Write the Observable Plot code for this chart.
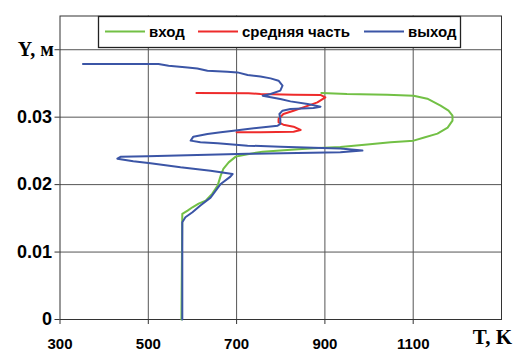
<!DOCTYPE html>
<html><head><meta charset="utf-8">
<script src="https://cdn.jsdelivr.net/npm/d3@7"></script>
<script src="https://cdn.jsdelivr.net/npm/@observablehq/plot@0.6"></script>
<style>body{margin:0;background:#fff} svg{display:block}</style>
</head><body><div id="chart"></div>
<script>
const seriesNames = ["вход", "средняя часть", "выход"];
const seriesColors = ["#72c045", "#ee2b2b", "#3b55a6"];

const xTicks = [300, 500, 700, 900, 1100];
const yTicks = [0, 0.01, 0.02, 0.03, 0.04];
const yTickLabels = ["0", "0.01", "0.02", "0.03", ""];
const yTitle = "Y, м";
const xTitle = "T, K";

// вход (inlet)
const inletT = [892, 950, 1041, 1101, 1132, 1162, 1180, 1189, 1189, 1178, 1155, 1123, 1101, 1049, 996, 935, 874, 815, 759, 716, 698, 682, 670, 664, 657, 645, 630, 614, 600, 589, 577, 575];
const inletY = [0.0336, 0.03344, 0.03333, 0.03319, 0.03274, 0.0317, 0.03096, 0.03022, 0.02948, 0.02844, 0.02756, 0.02696, 0.02652, 0.02627, 0.02593, 0.02556, 0.02538, 0.02514, 0.02489, 0.0244, 0.02415, 0.0233, 0.02233, 0.02133, 0.01985, 0.01867, 0.01763, 0.01719, 0.01664, 0.01615, 0.01566, 0];

// средняя часть (middle)
const middleT = [609, 727, 754, 829, 890, 901, 883, 851, 829, 806, 795, 795, 806, 829, 845, 829, 754, 700];
const middleY = [0.03359, 0.03356, 0.03344, 0.03333, 0.03329, 0.03293, 0.03219, 0.03145, 0.03096, 0.03047, 0.02973, 0.02923, 0.02889, 0.02859, 0.0281, 0.02785, 0.02778, 0.02775];

// выход (outlet)
const outletT = [352, 523, 546, 589, 611, 634, 679, 702, 725, 754, 777, 795, 804, 799, 777, 759, 799, 822, 861, 890, 874, 822, 804, 797, 799, 799, 793, 761, 725, 693, 664, 634, 602, 596, 618, 657, 725, 799, 874, 935, 985, 935, 838, 725, 611, 498, 437, 430, 466, 505, 573, 641, 664, 691, 686, 664, 641, 618, 600, 584, 577, 577];
const outletY = [0.03788, 0.03788, 0.03763, 0.03738, 0.03723, 0.03689, 0.03674, 0.03664, 0.03625, 0.03604, 0.03575, 0.03541, 0.03467, 0.03393, 0.03344, 0.03319, 0.0327, 0.03234, 0.03196, 0.03156, 0.03136, 0.03121, 0.03096, 0.03047, 0.02973, 0.02899, 0.02874, 0.02849, 0.02826, 0.028, 0.02775, 0.02751, 0.02711, 0.02652, 0.02627, 0.02612, 0.02578, 0.0256, 0.02548, 0.02537, 0.02504, 0.02481, 0.02469, 0.02456, 0.0244, 0.02422, 0.02412, 0.02385, 0.02345, 0.02316, 0.02256, 0.02207, 0.02182, 0.02156, 0.02119, 0.0201, 0.01807, 0.01689, 0.0159, 0.01516, 0.01441, 0];

const seriesT = [inletT, middleT, outletT];
const seriesY = [inletY, middleY, outletY];
const rows = [];
seriesNames.forEach((s, i) => seriesT[i].forEach((t, j) => rows.push({s, T: t, Y: seriesY[i][j]})));

const sans = "'Liberation Sans', Arial, sans-serif";
const serif = "'Liberation Serif', 'Times New Roman', serif";

const chart = Plot.plot({
  width: 527, height: 354,
  marginLeft: 59.5, marginRight: 26, marginTop: 15.5, marginBottom: 35,
  style: {fontFamily: sans, fontSize: "15px", fontWeight: "bold", color: "#000", background: "#fff"},
  x: {domain: [300, 1300]},
  y: {domain: [0, 0.045]},
  color: {domain: seriesNames, range: seriesColors},
  marks: [
    Plot.gridX(xTicks.slice(1), {stroke: "#555", strokeOpacity: 1}),
    Plot.gridY(yTicks.slice(1), {stroke: "#555", strokeOpacity: 1}),
    Plot.frame({stroke: "#333"}),
    Plot.axisX(xTicks, {tickSize: 5, tickPadding: 14, label: null, stroke: "#333", fill: "#000",
      fontSize: 15, tickFormat: d3.format("d")}),
    Plot.axisY(yTicks, {tickSize: 5, tickPadding: 3, label: null, stroke: "#333", fill: "#000",
      fontSize: 18, tickFormat: d => yTickLabels[yTicks.indexOf(d)]}),
    Plot.text([yTitle], {x: () => 300, y: () => yTicks[4], text: d => d, textAnchor: "end", dx: -6,
      fontFamily: serif, fontSize: 20, fontWeight: "bold", fill: "#000"}),
    Plot.text([xTitle], {x: () => 1300, y: () => 0, text: d => d, textAnchor: "middle", dx: -9, dy: 18,
      fontFamily: serif, fontSize: 21, fontWeight: "bold", fill: "#000"}),
    Plot.line(rows, {x: "T", y: "Y", z: "s", stroke: "s", strokeWidth: 2})
  ]
});
document.getElementById("chart").appendChild(chart);

// legend (inside plot, boxed)
const svg = d3.select(chart);
const lg = svg.append("g");
lg.append("rect").attr("x", 98.5).attr("y", 16.5).attr("width", 362).attr("height", 31)
  .attr("fill", "#fff").attr("stroke", "#222").attr("stroke-width", 1.3);
const lineStarts = [105, 198, 364];
seriesNames.forEach((s, i) => {
  const x0 = lineStarts[i];
  lg.append("line").attr("x1", x0).attr("x2", x0 + 40).attr("y1", 31.5).attr("y2", 31.5)
    .attr("stroke", seriesColors[i]).attr("stroke-width", 2);
  lg.append("text").attr("x", x0 + 44).attr("y", 31.5).attr("dy", "0.35em")
    .attr("text-anchor", "start")
    .attr("font-family", sans).attr("font-size", 15).attr("font-weight", "bold").attr("fill", "#000")
    .text(s);
});
</script>
</body></html>
